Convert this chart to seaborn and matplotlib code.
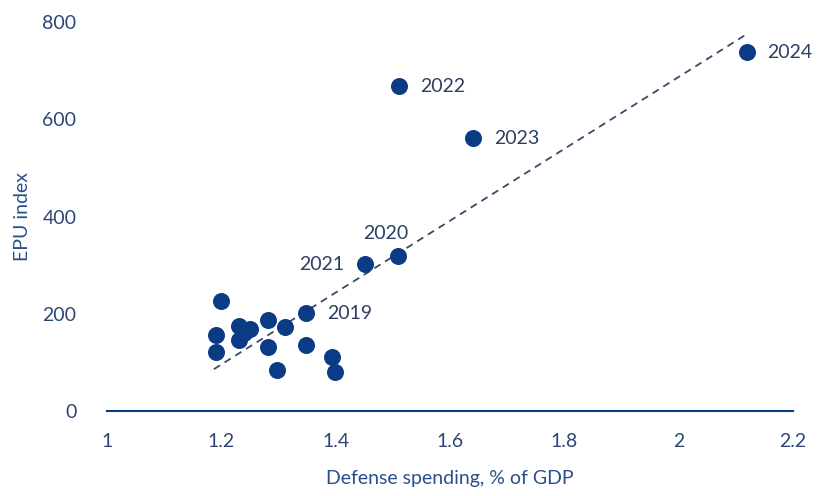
import numpy as np
import pandas as pd
import matplotlib
matplotlib.use("Agg")
import matplotlib.pyplot as plt
import seaborn as sns

# Data
defense_spending = [1.20, 1.19, 1.19, 1.231, 1.25, 1.231, 1.24, 1.282, 1.311, 1.282, 1.297,
                    1.349, 1.393, 1.399,
                    1.349, 1.509, 1.451, 1.511, 1.64, 2.12]
epu_index = [227, 156, 122, 175, 168, 146, 160, 187, 173, 131, 84,
             136, 112, 81,
             201, 319, 302, 668, 561, 738]
years = [""] * 14 + ["2019", "2020", "2021", "2022", "2023", "2024"]

# Trend line end points as drawn in the reference
trend_x = [1.187, 2.119]
trend_y = [86, 775]

x_ticks = [1, 1.2, 1.4, 1.6, 1.8, 2, 2.2]
x_tick_labels = ["1", "1.2", "1.4", "1.6", "1.8", "2", "2.2"]
y_ticks = [0, 200, 400, 600, 800]

df = pd.DataFrame({"x": defense_spending, "y": epu_index, "year": years})
trend_df = pd.DataFrame({"x": trend_x, "y": trend_y})

sns.set_theme(style="white")
plt.rcParams["font.family"] = ["Lato", "DejaVu Sans"]

navy = "#0b3b84"
text_col = "#2d3f63"
tick_col = "#2c4675"

fig = plt.figure(figsize=(8.21, 4.96), dpi=100)
ax = fig.add_axes([0.1303, 0.1714, 0.8356, 0.7842])

sns.lineplot(data=trend_df, x="x", y="y", ax=ax, color="#3a4a66", lw=1.3,
             linestyle=(0, (4, 3)), zorder=2)
sns.scatterplot(data=df, x="x", y="y", ax=ax, s=150, color=navy,
                edgecolor=navy, linewidth=0, zorder=3)

offsets = {
    "2019": (15, 0, "left", "center"),
    "2020": (-8.5, 10, "center", "bottom"),
    "2021": (-15, 0, "right", "center"),
    "2022": (15, 0, "left", "center"),
    "2023": (15, 0, "left", "center"),
    "2024": (14, 0, "left", "center"),
}
for xi, yi, yr in zip(defense_spending, epu_index, years):
    if yr:
        dx, dy, ha, va = offsets[yr]
        ax.annotate(yr, (xi, yi), xytext=(dx, dy), textcoords="offset points",
                    ha=ha, va=va, fontsize=14, color=text_col)

ax.set_xlim(1, 2.2)
ax.set_ylim(0, 800)
ax.set_xticks(x_ticks)
ax.set_xticklabels(x_tick_labels)
ax.set_yticks(y_ticks)
ax.tick_params(axis="both", length=0, labelsize=14, colors=tick_col)
ax.tick_params(axis="x", pad=16)
ax.tick_params(axis="y", pad=22)

for s in ["top", "right", "left"]:
    ax.spines[s].set_visible(False)
ax.spines["bottom"].set_color(navy)
ax.spines["bottom"].set_linewidth(1.5)

ax.set_xlabel("Defense spending, % of GDP", fontsize=14, color="#2b4f8c", labelpad=14)
ax.set_ylabel("EPU index", fontsize=14, color="#2b4f8c", labelpad=8)
ax.grid(False)

fig.savefig("out.png", dpi=100)
